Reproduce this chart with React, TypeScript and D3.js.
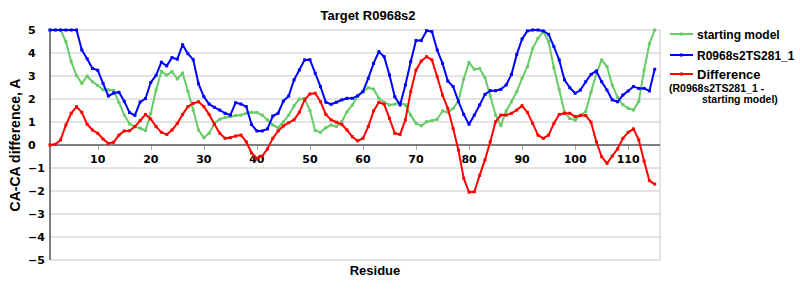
import React from "react";
import * as d3 from "d3";

const residues: number[] = Array.from({ length: 115 }, (_, i) => i + 1);

const startingModel: number[] = [
  5, 5, 5, 4.49, 3.62, 3.02, 2.68, 3.0, 2.75, 2.59,
  2.4, 2.4, 2.37, 1.85, 1.3, 0.92, 0.8, 0.73, 0.63, 1.38,
  2.39, 3.2, 3.04, 3.19, 2.87, 3.13, 2.34, 1.52, 0.65, 0.32,
  0.51, 0.94, 1.12, 1.19, 1.23, 1.28, 1.3, 1.38, 1.42, 1.41,
  1.3, 1.09, 0.87, 0.75, 1.01, 1.3, 1.7, 2.0, 2.02, 1.5,
  0.63, 0.55, 0.75, 0.87, 0.8, 1.01, 1.45, 1.74, 2.12, 2.32,
  2.49, 2.43, 2.03, 1.86, 1.74, 1.77, 1.84, 1.74, 1.3, 0.94,
  0.84, 1.01, 1.06, 1.12, 1.48, 1.42, 1.59, 1.91, 2.87, 3.59,
  3.29, 3.33, 2.93, 2.14, 1.3, 0.84, 1.48, 1.88, 2.32, 2.9,
  3.41, 4.2, 4.64, 4.93, 4.5, 3.35, 2.4, 1.42, 1.15, 1.08,
  1.3, 1.45, 2.3, 3.1, 3.7, 3.41, 2.6, 2.07, 1.75, 1.6,
  1.52, 1.9, 3.25, 4.4, 5,
];

const modelTS281: number[] = [
  5, 5, 5, 5, 5, 5, 4.13, 3.75, 3.33, 3.25,
  2.68, 2.13, 2.26, 2.29, 1.9, 1.41, 1.29, 1.87, 2.02, 2.72,
  3.03, 3.6, 3.44, 3.8, 3.73, 4.36, 3.97, 3.71, 2.66, 2.1,
  1.78, 1.64, 1.52, 1.38, 1.3, 1.84, 1.78, 1.67, 0.89, 0.61,
  0.61, 0.7, 1.26, 1.38, 1.91, 2.13, 2.83, 3.26, 3.7, 3.71,
  3.12, 2.54, 1.86, 1.77, 1.86, 1.96, 2.03, 2.03, 2.14, 2.32,
  2.9, 3.55, 4.06, 3.84, 3.04, 2.1, 1.74, 2.61, 3.62, 4.54,
  4.54, 4.97, 4.93, 4.13, 3.55, 2.78, 2.54, 1.9, 1.33, 0.9,
  1.3, 1.74, 2.2, 2.36, 2.36, 2.42, 2.61, 3.07, 3.94, 4.61,
  4.96, 5, 5, 4.96, 4.81, 4.28, 3.7, 2.83, 2.49, 2.25,
  2.39, 2.75, 3.07, 3.22, 2.75, 2.39, 1.96, 1.88, 2.17, 2.35,
  2.54, 2.46, 2.46, 2.35, 3.29,
];

const difference: number[] = [
  0, 0.03, 0.22, 0.87, 1.38, 1.67, 1.42, 0.9, 0.65, 0.51,
  0.26, 0.07, 0.12, 0.43, 0.61, 0.62, 0.8, 1.06, 1.33, 1.13,
  0.8, 0.55, 0.46, 0.65, 0.94, 1.33, 1.67, 1.81, 1.88, 1.67,
  1.33, 0.9, 0.51, 0.29, 0.32, 0.39, 0.43, 0.14, -0.35, -0.58,
  -0.48, -0.17, 0.29, 0.61, 0.83, 0.97, 1.09, 1.42, 1.96, 2.22,
  2.25, 1.88, 1.33, 1.09, 0.99, 0.9, 0.65, 0.36, 0.18, 0.29,
  0.8, 1.48, 1.86, 1.77, 1.16, 0.51, 0.46, 1.09, 2.32, 3.26,
  3.65, 3.84, 3.7, 2.97, 2.17, 1.59, 0.72, -0.22, -1.45, -2.05,
  -2.03, -1.32, -0.65, 0.14, 1.01, 1.3, 1.3, 1.38, 1.52, 1.71,
  1.42, 0.94, 0.43, 0.29, 0.43, 0.94, 1.33, 1.38, 1.38, 1.23,
  1.28, 1.28, 0.99, 0.14, -0.51, -0.8, -0.48, -0.17, 0.29, 0.55,
  0.7, 0.22, -0.7, -1.55, -1.7,
];

const xTicks: number[] = [10, 20, 30, 40, 50, 60, 70, 80, 90, 100, 110];
const yTicks: number[] = [5, 4, 3, 2, 1, 0, -1, -2, -3, -4, -5];

const seriesNames: string[] = ["starting model", "R0968s2TS281_1", "Difference"];
const seriesColors: string[] = ["#66cc66", "#0000ff", "#ff0000"];

const title = "Target R0968s2";
const xLabel = "Residue";
const yLabel = "CA-CA difference, A";
const diffNote: string[] = ["(R0968s2TS281_1 -", "starting model)"];

export default function App() {
  const W = 800, H = 300;
  const left = 50, right = 660, top = 30, bottom = 260;
  const x = d3.scaleLinear().domain([1, 116]).range([left, right]);
  const y = d3.scaleLinear().domain([-5, 5]).range([bottom, top]);
  const line = d3
    .line<[number, number]>()
    .x((d) => x(d[0]))
    .y((d) => y(d[1]));

  const allSeries = [startingModel, modelTS281, difference];
  const font = "'Liberation Sans', Arial, sans-serif";
  const tickFont = "'DejaVu Sans', Verdana, sans-serif";
  const fmt = (v: number) => (v < 0 ? "\u2212" + Math.abs(v) : String(v));

  const legendY = [34, 55, 74];

  return (
    <svg
      width={W}
      height={H}
      style={{ position: "absolute", left: 0, top: 0, background: "#fff" }}
    >
      <rect x={0} y={0} width={W} height={H} fill="#fff" />
      {yTicks.map((t) =>
        t === 0 ? null : (
          <line
            key={"g" + t}
            x1={left}
            x2={right}
            y1={y(t)}
            y2={y(t)}
            stroke="#c8c8c8"
            strokeWidth={1}
          />
        )
      )}
      <line x1={right} x2={right} y1={top} y2={bottom} stroke="#c8c8c8" />
      {xTicks.map((t) => (
        <g key={"xt" + t}>
          <line
            x1={Math.round(x(t)) + 0.5}
            x2={Math.round(x(t)) + 0.5}
            y1={y(0)}
            y2={y(0) + 5}
            stroke="#aaaaaa"
          />
          <text
            x={x(t)}
            y={y(0) + 18}
            textAnchor="middle"
            fontFamily={tickFont}
            fontWeight="bold"
            fontSize={11}
            fill="#000"
          >
            {t}
          </text>
        </g>
      ))}
      {yTicks.map((t) => (
        <text
          key={"yt" + t}
          x={28}
          y={y(t) + 4}
          textAnchor="start"
          fontFamily={tickFont}
          fontWeight="bold"
          fontSize={11}
          fill="#000"
        >
          {fmt(t)}
        </text>
      ))}
      <line x1={left} x2={right} y1={y(0)} y2={y(0)} stroke="#000" strokeWidth={1} />
      <line x1={left} x2={left} y1={top} y2={bottom} stroke="#000" strokeWidth={1} />

      {allSeries.map((s, i) => {
        const pts: [number, number][] = s.map((v, j) => [residues[j], v]);
        return (
          <g key={"s" + i}>
            <path
              d={line(pts) || ""}
              fill="none"
              stroke={seriesColors[i]}
              strokeWidth={2}
              strokeLinejoin="round"
            />
            {pts.map((p, j) => (
              <rect
                key={j}
                x={x(p[0]) - 1.5}
                y={y(p[1]) - 1.5}
                width={3}
                height={3}
                fill={seriesColors[i]}
              />
            ))}
          </g>
        );
      })}

      <text
        x={368}
        y={20}
        textAnchor="middle"
        fontFamily={font}
        fontWeight="bold"
        fontSize={13}
        fill="#000"
      >
        {title}
      </text>
      <text
        x={375}
        y={275}
        textAnchor="middle"
        fontFamily={font}
        fontWeight="bold"
        fontSize={13}
        fill="#000"
      >
        {xLabel}
      </text>
      <text
        transform={`translate(20,${y(0)}) rotate(-90)`}
        textAnchor="middle"
        fontFamily={font}
        fontWeight="bold"
        fontSize={14}
        fill="#000"
      >
        {yLabel}
      </text>

      {seriesNames.map((n, i) => (
        <g key={"l" + i}>
          <line
            x1={670}
            x2={693}
            y1={legendY[i]}
            y2={legendY[i]}
            stroke={seriesColors[i]}
            strokeWidth={2}
          />
          <rect
            x={680}
            y={legendY[i] - 1.5}
            width={3}
            height={3}
            fill={seriesColors[i]}
          />
          <text
            x={697}
            y={legendY[i] + 4.5}
            fontFamily={font}
            fontWeight="bold"
            fontSize={i === 2 ? 13 : 12}
            fill="#000"
          >
            {n}
          </text>
        </g>
      ))}
      <text
        x={669}
        y={91.5}
        fontFamily={font}
        fontWeight="bold"
        fontSize={10.5}
        fill="#000"
      >
        {diffNote[0]}
      </text>
      <text
        x={702}
        y={102.5}
        fontFamily={font}
        fontWeight="bold"
        fontSize={10.5}
        fill="#000"
      >
        {diffNote[1]}
      </text>
    </svg>
  );
}
